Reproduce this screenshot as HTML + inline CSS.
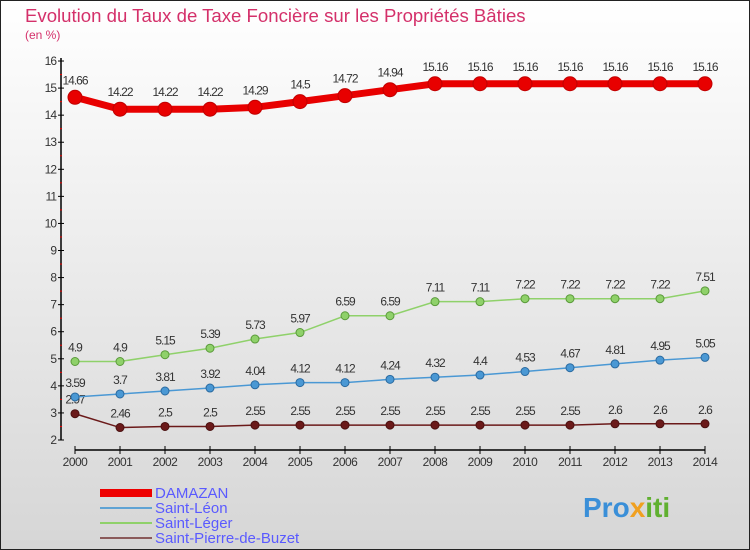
<!DOCTYPE html>
<html><head><meta charset="utf-8"><style>
body{margin:0}
#c{width:750px;height:550px;position:relative;background:linear-gradient(#ffffff,#d6d6d6);font-family:"Liberation Sans",sans-serif;overflow:hidden;box-sizing:border-box;border:1px solid #222}
</style></head><body>
<div id="c">
<svg id="s" width="750" height="550" style="position:absolute;left:-1px;top:-1px">
<text x="25" y="22" font-size="18.6" fill="#d4306a">Evolution du Taux de Taxe Foncière sur les Propriétés Bâties</text>
<text x="25" y="39" font-size="12" fill="#d4306a">(en %)</text>
<g id="axes"></g><g id="series"></g>
<g>
<rect x="100" y="489" width="52" height="8" fill="#e00"/>
<text x="155" y="498" font-size="15" fill="#5a5aff">DAMAZAN</text>
<rect x="100" y="507" width="52" height="2" fill="#5fa3d4"/>
<text x="155" y="513" font-size="15" fill="#5a5aff">Saint-Léon</text>
<rect x="100" y="522" width="52" height="2" fill="#8fd16a"/>
<text x="155" y="528" font-size="15" fill="#5a5aff">Saint-Léger</text>
<rect x="100" y="537" width="52" height="2" fill="#8a5a5a"/>
<text x="155" y="543" font-size="15" fill="#5a5aff">Saint-Pierre-de-Buzet</text>
</g>
<text x="583" y="517" font-size="28" font-weight="bold" fill="#3a8fd8">Pro<tspan fill="#f0a020">x</tspan><tspan fill="#60b030">iti</tspan></text>
</svg>
</div>
<script>
const years=[2000,2001,2002,2003,2004,2005,2006,2007,2008,2009,2010,2011,2012,2013,2014];
const damazan=[14.66,14.22,14.22,14.22,14.29,14.5,14.72,14.94,15.16,15.16,15.16,15.16,15.16,15.16,15.16];
const saintLeon=[3.59,3.7,3.81,3.92,4.04,4.12,4.12,4.24,4.32,4.4,4.53,4.67,4.81,4.95,5.05];
const saintLeger=[4.9,4.9,5.15,5.39,5.73,5.97,6.59,6.59,7.11,7.11,7.22,7.22,7.22,7.22,7.51];
const saintPierre=[2.97,2.46,2.5,2.5,2.55,2.55,2.55,2.55,2.55,2.55,2.55,2.55,2.6,2.6,2.6];
const yTicks=[2,3,4,5,6,7,8,9,10,11,12,13,14,15,16];
const NS="http://www.w3.org/2000/svg";
const X=i=>75+i*45, Y=v=>440-(v-2)*27.07;
function mk(tag,at,par){const e=document.createElementNS(NS,tag);for(const k in at)e.setAttribute(k,at[k]);par.appendChild(e);return e;}
const ax=document.getElementById('axes');
let l=mk('line',{x1:61,y1:58,x2:61,y2:440,stroke:'#000','stroke-width':1.5},ax);


l=mk('line',{x1:75,y1:450,x2:705,y2:450,stroke:'#000','stroke-width':1.5},ax);


yTicks.forEach(v=>{
 mk('line',{x1:58,x2:64,y1:Y(v),y2:Y(v),stroke:'#000'},ax);
 if(v<16) mk('line',{x1:60,x2:62,y1:Y(v+0.5),y2:Y(v+0.5),stroke:'#e00'},ax);
 const t=mk('text',{x:56,y:Y(v)+4,'font-size':12,fill:'#333','text-anchor':'end','letter-spacing':'-1'},ax);
 t.textContent=v;
 
 
});
years.forEach((yr,i)=>{
 mk('line',{x1:X(i),x2:X(i),y1:446,y2:454,stroke:'#000'},ax);
 const t=mk('text',{x:X(i),y:466,'font-size':12,fill:'#333','text-anchor':'middle','letter-spacing':'-0.5'},ax);
 t.textContent=yr;
 
 
});
const sg=document.getElementById('series');
function series(data,color,w,r,name,dark,off){
 const g=mk('g',{},sg);
 
 
 const p=mk('polyline',{points:data.map((v,i)=>X(i)+','+Y(v)).join(' '),fill:'none',stroke:color,'stroke-width':w},g);
 
 
 data.forEach((v,i)=>{
  const c=mk('circle',{cx:X(i),cy:Y(v),r:r,fill:color,stroke:dark,'stroke-width':1},g);
  
  
  const t=mk('text',{x:X(i),y:Y(v)-off,'font-size':12,fill:'#333','text-anchor':'middle','letter-spacing':'-1'},g);
  t.textContent=String(v);
  
  
 });
}
series(saintPierre,'#6b1a1a',1.5,4,'saint-pierre-de-buzet','#4a1010',10);
series(saintLeon,'#4a98d4',1.5,4,'saint-leon','#2a6aa0',10);
series(saintLeger,'#8fd16a',1.5,4,'saint-leger','#5a9a3a',10);
series(damazan,'#e80000',7,7,'damazan','#c00000',13);
</script>
</body></html>
